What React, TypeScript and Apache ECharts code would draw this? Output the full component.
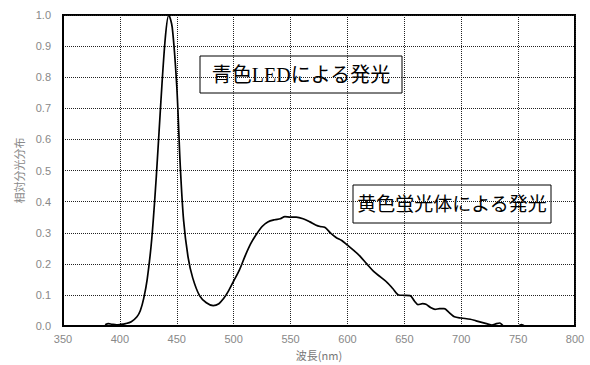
import React, { useEffect, useRef } from "react";
import * as echarts from "echarts";

const wavelengths = [
  387, 390, 393, 397, 400, 405, 410, 415, 418, 421, 424, 428, 432, 436, 440, 443, 446, 450, 453, 456,
  460, 464, 470, 476, 482, 487, 491, 495, 500, 505, 510, 515, 520, 525, 530, 536, 541, 545, 550, 555,
  561, 567, 572, 576, 580, 585, 590, 595, 600, 605, 611, 617, 623, 629, 635, 640, 645, 650, 655, 659,
  662, 666, 669, 673, 677, 681, 685, 689, 694, 700, 708, 713, 718, 723, 727, 731, 734, 737, 745, 750,
  753, 756, 770, 780,
];
const intensities = [
  0.004, 0.008, 0.006, 0.004, 0.005, 0.008, 0.014, 0.03, 0.05, 0.09, 0.15, 0.28, 0.48, 0.72, 0.93, 1.0, 0.96, 0.77, 0.52, 0.34,
  0.22, 0.155, 0.098, 0.075, 0.066, 0.072, 0.088, 0.11, 0.145, 0.18, 0.225, 0.265, 0.295, 0.32, 0.335, 0.342, 0.345, 0.352, 0.35, 0.35,
  0.345, 0.335, 0.325, 0.32, 0.318, 0.3, 0.285, 0.275, 0.26, 0.245, 0.225, 0.2, 0.176, 0.158, 0.14, 0.12, 0.1, 0.099, 0.098, 0.08,
  0.069, 0.072, 0.07, 0.06, 0.054, 0.056, 0.056, 0.045, 0.03, 0.026, 0.022, 0.017, 0.012, 0.007, 0.003, 0.008, 0.01, 0.001, 0.0, 0.0,
  0.005, 0.0, 0.0, 0.0,
];
const xAxisName = "波長(nm)";
const yAxisName = "相対分光分布";
const labelBlue = "青色LEDによる発光";
const labelYellow = "黄色蛍光体による発光";

const boxFont = "'Liberation Serif', 'Noto Sans CJK JP', serif";

export default function App() {
  const ref = useRef<HTMLDivElement>(null);
  useEffect(() => {
    if (!ref.current) return;
    const chart = echarts.init(ref.current, null, { renderer: "svg" });
    const data = wavelengths.map((w, i) => [w, intensities[i]]);
    const box = (x: number, y: number, w: number, h: number, text: string, fs: number) => ({
      type: "group",
      x,
      y,
      z: 100,
      children: [
        { type: "rect", shape: { x: 0, y: 0, width: w, height: h }, style: { fill: "#fff", stroke: "#000", lineWidth: 1 } },
        {
          type: "text",
          x: w / 2,
          y: h / 2,
          style: { text, fontSize: fs, fontFamily: boxFont, fill: "#000", align: "center", verticalAlign: "middle" },
        },
      ],
    });
    chart.setOption({
      animation: false,
      grid: { left: 63, right: 15, top: 15, bottom: 34, show: true, borderColor: "#000", borderWidth: 2, backgroundColor: "transparent" },
      xAxis: {
        type: "value",
        min: 350,
        max: 800,
        interval: 50,
        name: xAxisName,
        nameLocation: "middle",
        nameGap: 20,
        nameTextStyle: { color: "#777", fontSize: 11, fontFamily: "'Noto Sans CJK JP', sans-serif" },
        axisLine: { lineStyle: { color: "#000", width: 2 } },
        axisTick: { show: false },
        axisLabel: { color: "#888", fontSize: 11, margin: 7, fontFamily: "'Liberation Sans', sans-serif" },
        splitLine: { show: true, lineStyle: { type: "dotted", color: "#222", width: 1 } },
      },
      yAxis: {
        type: "value",
        min: 0,
        max: 1,
        interval: 0.1,
        name: yAxisName,
        nameLocation: "middle",
        nameRotate: 90,
        nameGap: 38,
        nameTextStyle: { color: "#888", fontSize: 11, fontFamily: "'Noto Sans CJK JP', sans-serif" },
        axisLine: { show: true, lineStyle: { color: "#000", width: 2 } },
        axisTick: { show: false },
        axisLabel: {
          color: "#888",
          fontSize: 11,
          margin: 12,
          fontFamily: "'Liberation Sans', sans-serif",
          formatter: (v: number) => v.toFixed(1),
        },
        splitLine: { show: true, lineStyle: { type: "dotted", color: "#222", width: 1 } },
      },
      series: [
        {
          type: "line",
          data,
          smooth: 0.3,
          showSymbol: false,
          lineStyle: { color: "#000", width: 1.7 },
        },
      ],
      graphic: [box(200, 56, 202, 37, labelBlue, 20), box(353, 185, 198, 38, labelYellow, 19)],
    });
    return () => chart.dispose();
  }, []);
  return <div ref={ref} style={{ width: 590, height: 365, position: "absolute", left: 0, top: 0 }} />;
}
